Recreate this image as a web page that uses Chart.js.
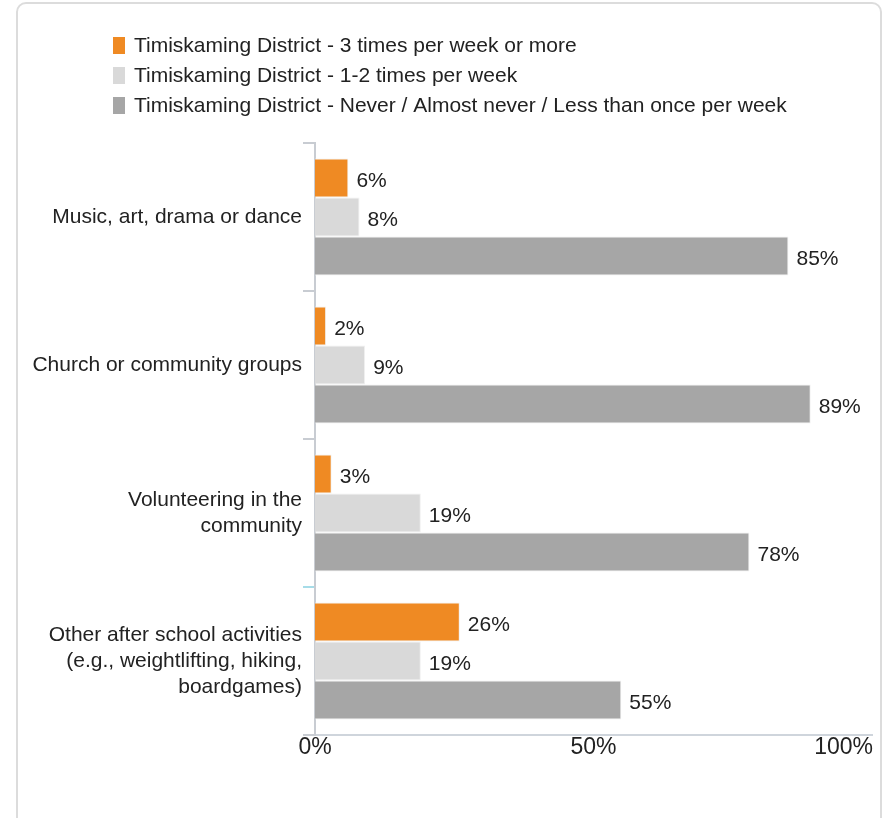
<!DOCTYPE html>
<html>
<head>
<meta charset="utf-8">
<script src="https://cdn.jsdelivr.net/npm/chart.js@4"></script>
<style>
  body { margin: 0; background: #fff; }
  .frame {
    position: absolute; left: 16px; top: 2px; width: 866px; height: 840px;
    border: 2px solid #dcdcdc; border-radius: 10px; box-sizing: border-box;
  }
  .wrap { position: absolute; left: 0; top: 0; width: 887px; height: 818px; }
</style>
</head>
<body>
<div class="frame"></div>
<div class="wrap"><canvas id="chart"></canvas></div>
<script>
  const categories = [
    "Music, art, drama or dance",
    "Church or community groups",
    ["Volunteering in the", "community"],
    ["Other after school activities", "(e.g., weightlifting, hiking,", "boardgames)"],
  ];
  const seriesLabels = [
    "Timiskaming District - 3 times per week or more",
    "Timiskaming District - 1-2 times per week",
    "Timiskaming District - Never / Almost never / Less than once per week",
  ];
  const threePlus = [6, 2, 3, 26];
  const oneTwo = [8, 9, 19, 19];
  const never = [85, 89, 78, 55];
  const xTickValues = [0, 50, 100];
  const xTickLabels = ["0%", "50%", "100%"];

  const colors = ["#ef8a23", "#d9d9d9", "#a6a6a6"];
  const FAMILY = "'Liberation Sans', Arial, sans-serif";
  const FONT = "21px " + FAMILY;
  const TEXT = "#222";

  // legend, value labels and x tick labels drawn on the canvas
  const extras = {
    id: "extras",
    afterDraw(chart) {
      const c = chart.ctx;
      c.save();
      c.font = FONT;
      c.fillStyle = TEXT;
      c.textBaseline = "middle";

      // legend
      chart.data.datasets.forEach((ds, i) => {
        const y = 45 + i * 30;
        c.fillStyle = ds.backgroundColor;
        c.fillRect(113, y - 8, 12, 17);
        c.fillStyle = TEXT;
        c.textAlign = "left";
        c.fillText(ds.label, 134, y + 1);
      });

      // value labels
      chart.data.datasets.forEach((ds, i) => {
        chart.getDatasetMeta(i).data.forEach((bar, j) => {
          c.textAlign = "left";
          c.fillText(ds.data[j] + "%", bar.x + 8, bar.y + 3);
        });
      });

      // x tick labels, last one kept inside
      c.font = "23px " + FAMILY;
      const xs = chart.scales.x;
      xTickValues.forEach((v, i) => {
        const last = i === xTickValues.length - 1;
        c.textAlign = last ? "right" : "center";
        c.fillText(xTickLabels[i], xs.getPixelForValue(v) + (last ? 1 : 0), chart.chartArea.bottom + 13);
      });
      c.restore();
    },
  };

  new Chart(document.getElementById("chart"), {
    type: "bar",
    data: {
      labels: categories,
      datasets: [
        { label: seriesLabels[0], data: threePlus, backgroundColor: colors[0] },
        { label: seriesLabels[1], data: oneTwo, backgroundColor: colors[1] },
        { label: seriesLabels[2], data: never, backgroundColor: colors[2] },
      ],
    },
    options: {
      indexAxis: "y",
      responsive: true,
      maintainAspectRatio: false,
      animation: false,
      layout: { padding: { top: 143, left: 20, right: 15, bottom: 0 } },
      datasets: {
        bar: {
          categoryPercentage: 0.79,
          barPercentage: 1,
          borderWidth: 1,
          borderColor: "#f0f0f0",
        },
      },
      scales: {
        x: {
          min: 0,
          max: 100,
          grid: { display: false },
          border: { display: true, color: "#cfd5dc", width: 2 },
          ticks: { display: false },
          afterFit: (scale) => { scale.height = 83; },
        },
        y: {
          grid: {
            drawOnChartArea: false,
            tickLength: 12,
            color: (ctx) => (ctx.index === 3 ? "#a6dce8" : "#c8ccd2"),
            lineWidth: 2,
          },
          border: { display: true, color: "#c8ccd2", width: 2 },
          ticks: {
            color: TEXT,
            padding: 1,
            font: { family: FAMILY, size: 21, lineHeight: 1.25 },
          },
          afterFit: (scale) => { scale.width = 295; },
        },
      },
      plugins: {
        legend: { display: false },
        tooltip: { enabled: false },
      },
    },
    plugins: [extras],
  });
</script>
</body>
</html>
